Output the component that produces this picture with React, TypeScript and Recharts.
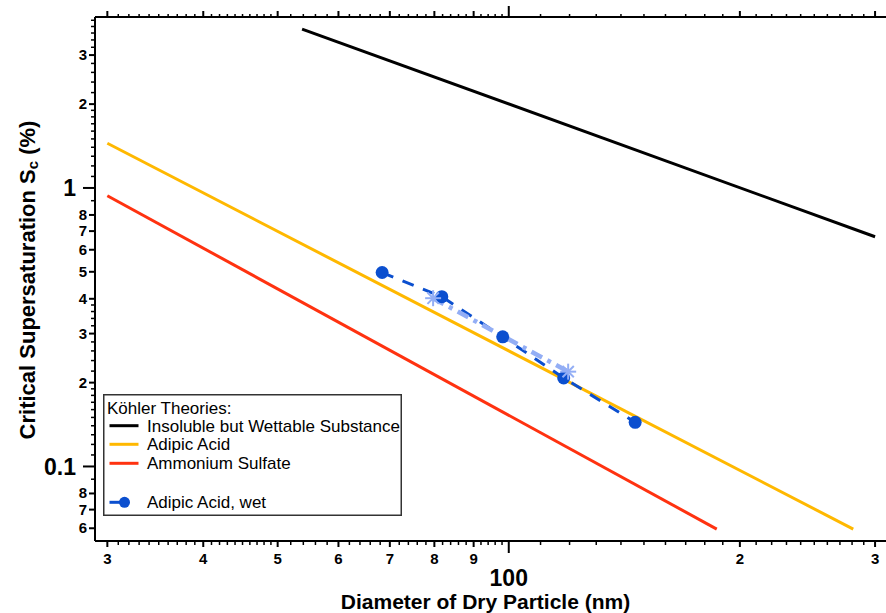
import { ComposedChart, Label, Legend, Line, XAxis, YAxis } from "recharts";

// Köhler theory curves (dry diameter in nm, critical supersaturation in %)
const insolubleD = [53.8, 300];
const insolubleSc = [3.72, 0.668];
const adipicD = [30, 281];
const adipicSc = [1.447, 0.0596];
const sulfateD = [30, 186.6];
const sulfateSc = [0.938, 0.0596];

// measured, adipic acid wet
const wetD = [68.4, 81.8, 98.2, 117.9, 146.1];
const wetSc = [0.497, 0.407, 0.292, 0.208, 0.144];
const wetStarD = [79.7, 119.5];
const wetStarSc = [0.402, 0.219];

const theoryNames = ["Insoluble but Wettable Substance", "Adipic Acid", "Ammonium Sulfate"];
const wetName = "Adipic Acid, wet";

const xMajorTicks = [30, 40, 50, 60, 70, 80, 90, 100, 200, 300];
const xMajorLabels = ["3", "4", "5", "6", "7", "8", "9", "100", "2", "3"];
const xMinorTicks = [
  31, 32, 33, 34, 35, 36, 37, 38, 39, 41, 42, 43, 44, 45, 46, 47, 48, 49, 52, 54, 56, 58,
  62, 64, 66, 68, 72, 74, 76, 78, 82, 84, 86, 88, 92, 94, 96, 98, 110, 120, 130, 140, 150,
  160, 170, 180, 190, 210, 220, 230, 240, 250, 260, 270, 280, 290,
];
const yMajorTicks = [0.06, 0.07, 0.08, 0.1, 0.2, 0.3, 0.4, 0.5, 0.6, 0.7, 0.8, 1, 2, 3];
const yMajorLabels = ["6", "7", "8", "0.1", "2", "3", "4", "5", "6", "7", "8", "1", "2", "3"];
const yMinorTicks = [
  0.09, 0.11, 0.12, 0.13, 0.14, 0.15, 0.16, 0.17, 0.18, 0.19, 0.22, 0.24, 0.26, 0.28, 0.32,
  0.34, 0.36, 0.38, 0.9, 1.1, 1.2, 1.3, 1.4, 1.5, 1.6, 1.7, 1.8, 1.9, 2.2, 2.4, 2.6, 2.8,
  3.2, 3.4, 3.6, 3.8, 4.0,
];

const FONT = "'Liberation Sans', Arial, sans-serif";
const BLACK = "#000000";
const YELLOW = "#FFB800";
const RED = "#FF3210";
const BLUE = "#0B4FCF";
const LIGHT_BLUE = "#93AEF5";

const toPoints = (d: number[], sc: number[]) => d.map((v, i) => ({ d: v, sc: sc[i] }));

const xTicks = [...xMajorTicks, ...xMinorTicks].sort((a, b) => a - b);
const yTicks = [...yMajorTicks, ...yMinorTicks].sort((a, b) => a - b);

function BottomTick({ x, y, payload }: any) {
  const idx = xMajorTicks.indexOf(payload.value);
  if (idx < 0) return <line x1={x} x2={x} y1={y} y2={y + 4} stroke={BLACK} strokeWidth={1.5} />;
  const big = payload.value === 100;
  return (
    <g>
      <line x1={x} x2={x} y1={y} y2={y + (big ? 12 : 6)} stroke={BLACK} strokeWidth={2} />
      <text
        x={x}
        y={y + (big ? 45 : 23)}
        textAnchor="middle"
        fontFamily={FONT}
        fontWeight="bold"
        fontSize={big ? 23 : 15}
        fill={BLACK}
      >
        {xMajorLabels[idx]}
      </text>
    </g>
  );
}

function TopTick({ x, y, payload }: any) {
  const major = xMajorTicks.includes(payload.value);
  const len = payload.value === 100 ? 11 : major ? 6 : 3;
  return <line x1={x} x2={x} y1={y} y2={y - len} stroke={BLACK} strokeWidth={major ? 2 : 1.5} />;
}

function LeftTick({ x, y, payload }: any) {
  const idx = yMajorTicks.indexOf(payload.value);
  if (idx < 0) return <line x1={x - 4} x2={x} y1={y} y2={y} stroke={BLACK} strokeWidth={1.5} />;
  const big = payload.value === 1 || payload.value === 0.1;
  return (
    <g>
      <line x1={x - (big ? 12 : 6)} x2={x} y1={y} y2={y} stroke={BLACK} strokeWidth={2} />
      <text
        x={x - (big ? 19 : 8)}
        y={y + (big ? 8.5 : 5)}
        textAnchor="end"
        fontFamily={FONT}
        fontWeight="bold"
        fontSize={big ? 23 : 15}
        fill={BLACK}
      >
        {yMajorLabels[idx]}
      </text>
    </g>
  );
}

function StarDot({ cx, cy, index }: any) {
  const r = 8;
  const k = r * 0.7071;
  return (
    <g key={`star-${index}`} stroke={LIGHT_BLUE} strokeWidth={2}>
      <line x1={cx - r} x2={cx + r} y1={cy} y2={cy} />
      <line x1={cx} x2={cx} y1={cy - r} y2={cy + r} />
      <line x1={cx - k} x2={cx + k} y1={cy - k} y2={cy + k} />
      <line x1={cx - k} x2={cx + k} y1={cy + k} y2={cy - k} />
    </g>
  );
}

function CircleDot({ cx, cy, index }: any) {
  return <circle key={`dot-${index}`} cx={cx} cy={cy} r={6.5} fill={BLUE} />;
}

function KohlerLegend() {
  const colors = [BLACK, YELLOW, RED];
  const rowY = [31.7, 50.3, 69.3];
  return (
    <svg width={299} height={122} style={{ display: "block" }}>
      <rect x={0.75} y={0.75} width={297.5} height={120.5} fill="#fff" stroke="#333" strokeWidth={1.5} />
      <text x={4} y={19.5} fontFamily={FONT} fontSize={17} fill={BLACK}>
        Köhler Theories:
      </text>
      {theoryNames.map((name, i) => (
        <g key={name}>
          <line x1={6.5} x2={35.5} y1={rowY[i]} y2={rowY[i]} stroke={colors[i]} strokeWidth={3} />
          <text x={44} y={rowY[i] + 6} fontFamily={FONT} fontSize={17} fill={BLACK}>
            {name}
          </text>
        </g>
      ))}
      <line x1={6.5} x2={21} y1={108.3} y2={108.3} stroke={BLUE} strokeWidth={3} />
      <circle cx={21.5} cy={108.3} r={5.5} fill={BLUE} />
      <text x={44} y={114.3} fontFamily={FONT} fontSize={17} fill={BLACK}>
        {wetName}
      </text>
    </svg>
  );
}

export default function App() {
  return (
    <div style={{ position: "absolute", left: 0, top: 0, width: 886, height: 613, background: "#fff" }}>
      <ComposedChart width={886} height={613} margin={{ top: 16, right: 0, bottom: 0, left: 0 }}>
        <XAxis
          xAxisId="bottom"
          dataKey="d"
          type="number"
          scale="log"
          domain={[28.91, 310]}
          allowDataOverflow
          ticks={xTicks}
          interval={0}
          tick={BottomTick}
          tickLine={false}
          tickSize={0}
          tickMargin={0}
          height={72}
          axisLine={{ stroke: BLACK, strokeWidth: 2 }}
        >
          <Label
            content={({ viewBox }: any) => (
              <text
                x={viewBox.x + viewBox.width / 2 - 5}
                y={viewBox.y + 68}
                textAnchor="middle"
                fontFamily={FONT}
                fontWeight="bold"
                fontSize={21}
                fill={BLACK}
              >
                Diameter of Dry Particle (nm)
              </text>
            )}
          />
        </XAxis>
        <XAxis
          xAxisId="top"
          orientation="top"
          dataKey="d"
          type="number"
          scale="log"
          domain={[28.91, 310]}
          allowDataOverflow
          ticks={xTicks}
          interval={0}
          tick={TopTick}
          tickLine={false}
          tickSize={0}
          tickMargin={0}
          height={1}
          axisLine={{ stroke: BLACK, strokeWidth: 2 }}
        />
        <YAxis
          yAxisId="left"
          type="number"
          scale="log"
          domain={[0.054, 4.11]}
          allowDataOverflow
          ticks={yTicks}
          interval={0}
          tick={LeftTick}
          tickLine={false}
          tickSize={0}
          tickMargin={0}
          width={95}
          axisLine={{ stroke: BLACK, strokeWidth: 2 }}
        >
          <Label
            content={() => (
              <text
                x={35}
                y={280}
                transform="rotate(-90 35 280)"
                textAnchor="middle"
                fontFamily={FONT}
                fontWeight="bold"
                fontSize={22}
                fill={BLACK}
              >
                Critical Supersaturation S
                <tspan fontSize={15} dy={3}>
                  c
                </tspan>
                <tspan dy={-3}> (%)</tspan>
              </text>
            )}
          />
        </YAxis>
        <Legend
          layout="horizontal"
          verticalAlign="middle"
          align="center"
          content={KohlerLegend}
          wrapperStyle={{ left: 103, top: 394, width: 299, height: 122 }}
        />
        {/* invisible series so the top mirror axis gets a scale */}
        <Line
          xAxisId="top"
          yAxisId="left"
          data={toPoints(insolubleD, insolubleSc)}
          dataKey="sc"
          type="linear"
          stroke="none"
          dot={false}
          activeDot={false}
          legendType="none"
          isAnimationActive={false}
        />
        <Line
          xAxisId="bottom"
          yAxisId="left"
          data={toPoints(insolubleD, insolubleSc)}
          dataKey="sc"
          type="linear"
          stroke={BLACK}
          strokeWidth={3}
          dot={false}
          activeDot={false}
          isAnimationActive={false}
        />
        <Line
          xAxisId="bottom"
          yAxisId="left"
          data={toPoints(adipicD, adipicSc)}
          dataKey="sc"
          type="linear"
          stroke={YELLOW}
          strokeWidth={3}
          dot={false}
          activeDot={false}
          isAnimationActive={false}
        />
        <Line
          xAxisId="bottom"
          yAxisId="left"
          data={toPoints(sulfateD, sulfateSc)}
          dataKey="sc"
          type="linear"
          stroke={RED}
          strokeWidth={3}
          dot={false}
          activeDot={false}
          isAnimationActive={false}
        />
        <Line
          xAxisId="bottom"
          yAxisId="left"
          data={toPoints(wetD, wetSc)}
          dataKey="sc"
          type="linear"
          stroke={BLUE}
          strokeWidth={3}
          strokeDasharray="12 10"
          dot={CircleDot}
          activeDot={false}
          isAnimationActive={false}
        />
        <Line
          xAxisId="bottom"
          yAxisId="left"
          data={toPoints(wetStarD, wetStarSc)}
          dataKey="sc"
          type="linear"
          stroke={LIGHT_BLUE}
          strokeWidth={4.5}
          strokeDasharray="12 6 4 6"
          dot={StarDot}
          activeDot={false}
          isAnimationActive={false}
        />
      </ComposedChart>
    </div>
  );
}
